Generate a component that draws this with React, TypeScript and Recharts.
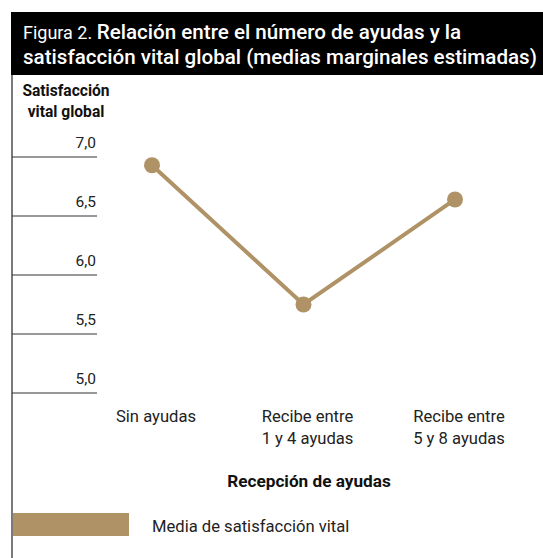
import React from 'react';
import { LineChart, Line, XAxis, YAxis } from 'recharts';

const categories = ['Sin ayudas', 'Recibe entre 1 y 4 ayudas', 'Recibe entre 5 y 8 ayudas'];
const tickLabels = [['Sin ayudas'], ['Recibe entre', '1 y 4 ayudas'], ['Recibe entre', '5 y 8 ayudas']];
const satisfaccion = [6.93, 5.75, 6.64];
const yTicks = [5, 5.5, 6, 6.5, 7];

const GOLD = '#AF9366';
const FONT = 'Roboto, "Noto Sans", sans-serif';

const data = categories.map((cat, i) => ({ cat, media: satisfaccion[i] }));

const YTick = (props: any) => {
  const { y, payload } = props;
  return (
    <g>
      <text x={96} y={y - 9} textAnchor="end" fontSize={15.5} fill="#222" fontFamily={FONT}>
        {payload.value.toFixed(1).replace('.', ',')}
      </text>
      <line x1={12} x2={97} y1={y} y2={y} stroke="#333" strokeWidth={1} />
    </g>
  );
};

const XTick = (props: any) => {
  const { x, payload } = props;
  const lines = tickLabels[categories.indexOf(payload.value)] || [payload.value];
  return (
    <text x={x + 4} y={422} textAnchor="middle" fontSize={16.6} fill="#222" fontFamily={FONT}>
      {lines.map((l, i) => (
        <tspan key={i} x={x + 4} dy={i === 0 ? 0 : 22}>{l}</tspan>
      ))}
    </text>
  );
};

export default function App() {
  return (
    <div style={{ position: 'absolute', left: 0, top: 0, width: 543, height: 558, background: '#fff', fontFamily: FONT }}>
      <div style={{ position: 'absolute', left: 11, top: 12, width: 532, height: 63, background: '#000', color: '#fff' }}>
        <div style={{ position: 'absolute', left: 12, top: 8, fontSize: 20.6, lineHeight: '24px', fontWeight: 500, whiteSpace: 'nowrap' }}>
          <span style={{ fontSize: 18, fontWeight: 400 }}>Figura 2. </span>Relación entre el número de ayudas y la
          <br />satisfacción vital global (medias marginales estimadas)
        </div>
      </div>
      <div style={{ position: 'absolute', left: 11, top: 75, width: 2, height: 483, background: '#7a7a7a' }} />
      <div style={{ position: 'absolute', left: 17, top: 81, width: 98, textAlign: 'center', fontSize: 15.6, lineHeight: '21px', fontWeight: 700, color: '#111' }}>
        Satisfacción<br />vital global
      </div>
      <LineChart width={543} height={558} data={data} margin={{ top: 157, right: 33, left: 12, bottom: 0 }}>
        <YAxis
          domain={[5, 7]}
          ticks={yTicks}
          width={85}
          axisLine={false}
          tickLine={false}
          tick={<YTick />}
          interval={0}
        />
        <XAxis
          dataKey="cat"
          height={165}
          padding={{ left: 55, right: 55 }}
          axisLine={false}
          tickLine={false}
          tick={<XTick />}
          interval={0}
        />
        <Line
          type="linear"
          dataKey="media"
          stroke={GOLD}
          strokeWidth={4}
          dot={{ r: 8, fill: GOLD, stroke: 'none' }}
          activeDot={false}
          isAnimationActive={false}
        />
      </LineChart>
      <div style={{ position: 'absolute', left: 0, width: 618, top: 471, textAlign: 'center', fontSize: 17.2, fontWeight: 700, color: '#111' }}>
        Recepción de ayudas
      </div>
      <div style={{ position: 'absolute', left: 13, top: 513, width: 116, height: 23, background: GOLD }} />
      <div style={{ position: 'absolute', left: 152, top: 517, fontSize: 16.6, color: '#222' }}>
        Media de satisfacción vital
      </div>
    </div>
  );
}
